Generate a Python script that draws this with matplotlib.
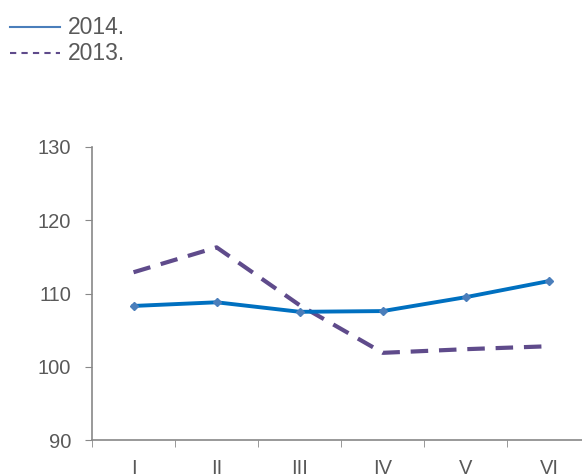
import matplotlib.pyplot as plt
from matplotlib.lines import Line2D

plt.rcParams['font.family'] = ['Liberation Sans', 'DejaVu Sans']

months = ["I", "II", "III", "IV", "V", "VI"]
y2014 = [108.3, 108.8, 107.5, 107.6, 109.5, 111.7]
y2013 = [112.9, 116.3, 108.4, 101.9, 102.4, 102.8]

W, H = 582, 474
gray = "#595959"
fig = plt.figure(figsize=(W / 100, H / 100), dpi=100)
ax = fig.add_axes([92 / W, 1 - 440 / H, (590.5 - 92) / W, (440 - 147) / H])

x = list(range(len(months)))
ax.plot(x, y2013, color="#5f4b8b", lw=3, dashes=(4.2, 2.6), zorder=2)
ax.plot(x, y2014, color="#0070c0", lw=2.8, marker="D", ms=4.5,
        mfc="#4a7ebb", mec="#4a7ebb", zorder=3)

ax.set_xlim(-0.5, 5.5)
ax.set_ylim(90, 130)
ax.set_yticks([90, 100, 110, 120, 130])
ax.set_xticks(x)
ax.set_xticklabels(months)
ax.set_xticks([i + 0.5 for i in range(-1, 6)], minor=True)
ax.tick_params(axis="x", which="major", length=0, pad=14, labelsize=14.5, labelcolor=gray)
ax.tick_params(axis="x", which="minor", length=5, color="#888888", direction="out")
ax.tick_params(axis="y", length=5, color="#888888", labelsize=14.5, labelcolor=gray, pad=10)

for s in ["top", "right"]:
    ax.spines[s].set_visible(False)
for s in ["left", "bottom"]:
    ax.spines[s].set_color("#888888")
    ax.spines[s].set_linewidth(1.2)

# legend drawn by hand, top left
legend_items = [("2014.", "#4a7ebb", None, 27), ("2013.", "#5f4b8b", (3, 2.5), 53)]
for label, col, dash, ypx in legend_items:
    ln = Line2D([10 / W, 60 / W], [1 - ypx / H] * 2, transform=fig.transFigure,
                color=col, lw=1.5)
    if dash:
        ln.set_dashes(dash)
    fig.add_artist(ln)
    fig.text(68 / W, 1 - ypx / H, label, fontsize=16.5, color=gray, va="center", ha="left")

fig.savefig("out.png", dpi=100)
